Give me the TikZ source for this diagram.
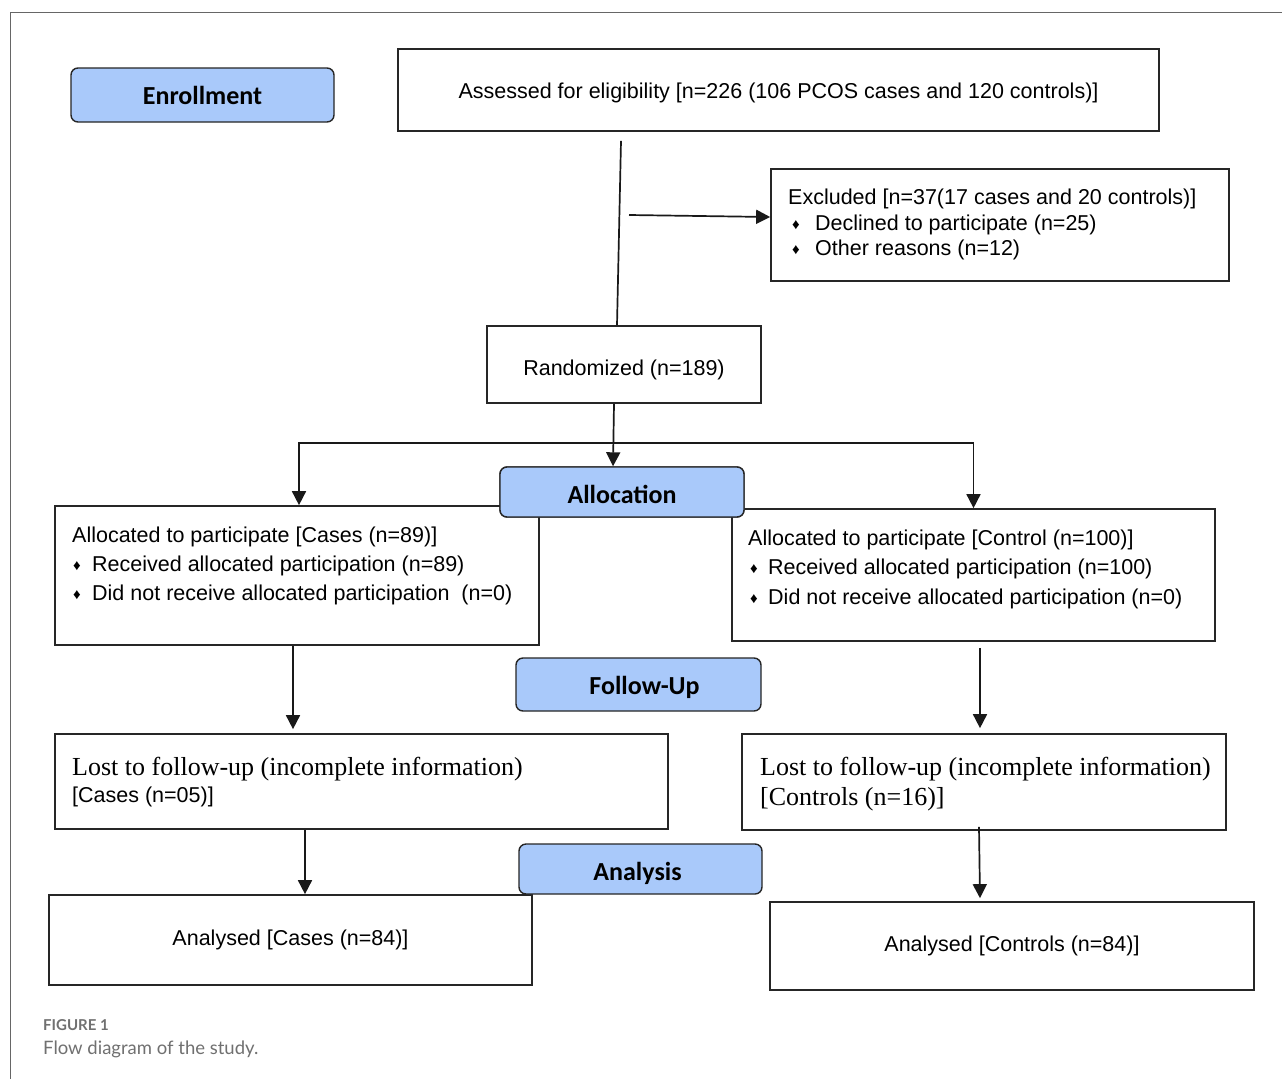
\documentclass[tikz,border=0pt]{standalone}
\usepackage{fontspec}
\setmainfont{Liberation Sans}
\newfontfamily\tnr{Liberation Serif}
\newfontfamily\hdr{Carlito}
\newfontfamily\capfont{Lato}
\usetikzlibrary{arrows.meta,calc}
\definecolor{hdrblue}{HTML}{A9C9FA}
\definecolor{capgray}{HTML}{707070}
\newcommand{\bul}{{\fontsize{15}{15}\selectfont\raisebox{1pt}{♦}}}
\newcommand{\dn}[2]{\raisebox{-#1pt}[\height][\depth]{#2}}
\begin{document}
\begin{tikzpicture}[x=1pt,y=-1pt,
  box/.style={draw=black!85, line width=1.7pt, inner sep=0pt},
  hdrbox/.style={draw=black!85, fill=hdrblue, line width=1.4pt, rounded corners=7pt, inner sep=0pt, font=\hdr\bfseries\fontsize{26}{30}\selectfont},
  txt/.style={inner sep=0pt, align=left, font=\fontsize{21.5}{25.5}\selectfont},
  conn/.style={line width=1.7pt, black!90},
  arr/.style={conn, -{Triangle[width=14pt,length=14pt]}}]
\useasboundingbox (0,0) rectangle (1282,1079);
\fill[white] (0,0) rectangle (1282,1079);
\draw[line width=1pt, black!60] (1282,12) -- (10,12) -- (10,1079);

% boxes
\node[box, minimum width=761, minimum height=82, font=\fontsize{21.5}{25.5}\selectfont] (assess) at (778.5,90) {\dn{3}{Assessed for eligibility [n=226 (106 PCOS cases and 120 controls)]}};
\node[box, minimum width=458, minimum height=112] (excl) at (1000,225) {};
\node[box, minimum width=274, minimum height=77, font=\fontsize{21.5}{25.5}\selectfont] (rand) at (624,364.5) {\dn{5}{Randomized (n=189)}};
\node[box, minimum width=484, minimum height=139] (aleft) at (297,575.5) {};
\node[box, minimum width=483, minimum height=132] (aright) at (973.5,575) {};
\node[box, minimum width=613, minimum height=95] (lostL) at (361.5,781.5) {};
\node[box, minimum width=484, minimum height=96] (lostR) at (984,782) {};
\node[box, minimum width=483, minimum height=90, font=\fontsize{21.5}{25.5}\selectfont] (anL) at (290.5,940) {Analysed [Cases (n=84)]};
\node[box, minimum width=484, minimum height=88, font=\fontsize{21.5}{25.5}\selectfont] (anR) at (1012,946) {Analysed [Controls (n=84)]};

% texts
\node[txt, anchor=west] (excltxt) at (788,224.5) {Excluded [n=37(17 cases and 20 controls)]\\
\hspace*{4pt}\makebox[23pt][l]{\bul}Declined to participate (n=25)\\
\hspace*{4pt}\makebox[23pt][l]{\bul}Other reasons (n=12)};
\node[txt, anchor=west, font=\fontsize{21.5}{29}\selectfont] (alefttxt) at (72,566) {Allocated to participate [Cases (n=89)]\\
\hspace*{1pt}\makebox[19pt][l]{\bul}Received allocated participation (n=89)\\
\hspace*{1pt}\makebox[19pt][l]{\bul}Did not receive allocated participation~ (n=0)};
\node[txt, anchor=west, font=\fontsize{21.5}{29.5}\selectfont] (arighttxt) at (748,569) {Allocated to participate [Control (n=100)]\\
\hspace*{2pt}\makebox[18pt][l]{\bul}Received allocated participation (n=100)\\
\hspace*{2pt}\makebox[18pt][l]{\bul}Did not receive allocated participation (n=0)};
\node[txt, anchor=west, font=\fontsize{26}{27}\selectfont] (lostLtxt) at (72,782) {{\tnr Lost to follow-up (incomplete information)}\\
{\fontsize{21.5}{27}\selectfont {[}Cases (n=05)]}};
\node[txt, anchor=west, font=\tnr\fontsize{26}{30}\selectfont] (lostRtxt) at (760,784) {Lost to follow-up (incomplete information)\\
{[}Controls (n=16)]};

% connectors
\coordinate (exclsrc) at (629,215);
\draw[arr] (exclsrc) -- ($(excl.west)+(0,-8)$);
\draw[conn] ($(assess.south)+(-157.5,9)$) -- ($(rand.north)+(-7,0)$);
\node[hdrbox, minimum width=244, minimum height=50] (alloc) at (622,492) {};
\draw[arr] ($(rand.south)+(-10,0)$) -- ($(alloc.north)+(-9,0)$);
\coordinate (split) at (613.6,443);
\draw[arr] (split) -| ($(aleft.north)+(2,0)$);
\draw[arr] (split) -| (aright.north);
\draw[arr] ($(aleft.south)+(-4,0)$) coordinate (d1) -- ($(d1 |- lostL.north)+(0,-4)$);
\draw[arr] ($(aright.south)+(6.5,6)$) coordinate (d2) -- ($(d2 |- lostR.north)+(0,-5)$);
\draw[arr] ($(lostL.south)+(-56.5,0)$) coordinate (d3) -- (d3 |- anL.north);
\draw[arr] ($(lostR.south)+(-5,-4)$) coordinate (d4) -- ($(d4 |- anR.north)+(1,-3)$);

% header boxes
\node[hdrbox, minimum width=263, minimum height=54] (enroll) at (202.5,95) {Enrollment};
\node[hdrbox, minimum width=244, minimum height=50] at (alloc) {\dn{2}{Allocation}};
\node[hdrbox, minimum width=245, minimum height=53] (follow) at (638.5,684.5) {\hspace*{12pt}\dn{3}{Follow-Up}};
\node[hdrbox, minimum width=243, minimum height=50] (analysis) at (640.5,869) {\hspace*{-6pt}\dn{4}{Analysis}};

% caption
\node[anchor=base west, inner sep=0pt, text=capgray, font=\capfont\bfseries\fontsize{15}{18}\selectfont] (figlab) at (43,1030) {FIGURE 1};
\node[anchor=base west, inner sep=0pt, text=capgray, font=\capfont\fontsize{18.5}{22}\selectfont] (figcap) at (43,1054) {Flow diagram of the study.};
\end{tikzpicture}
\end{document}
